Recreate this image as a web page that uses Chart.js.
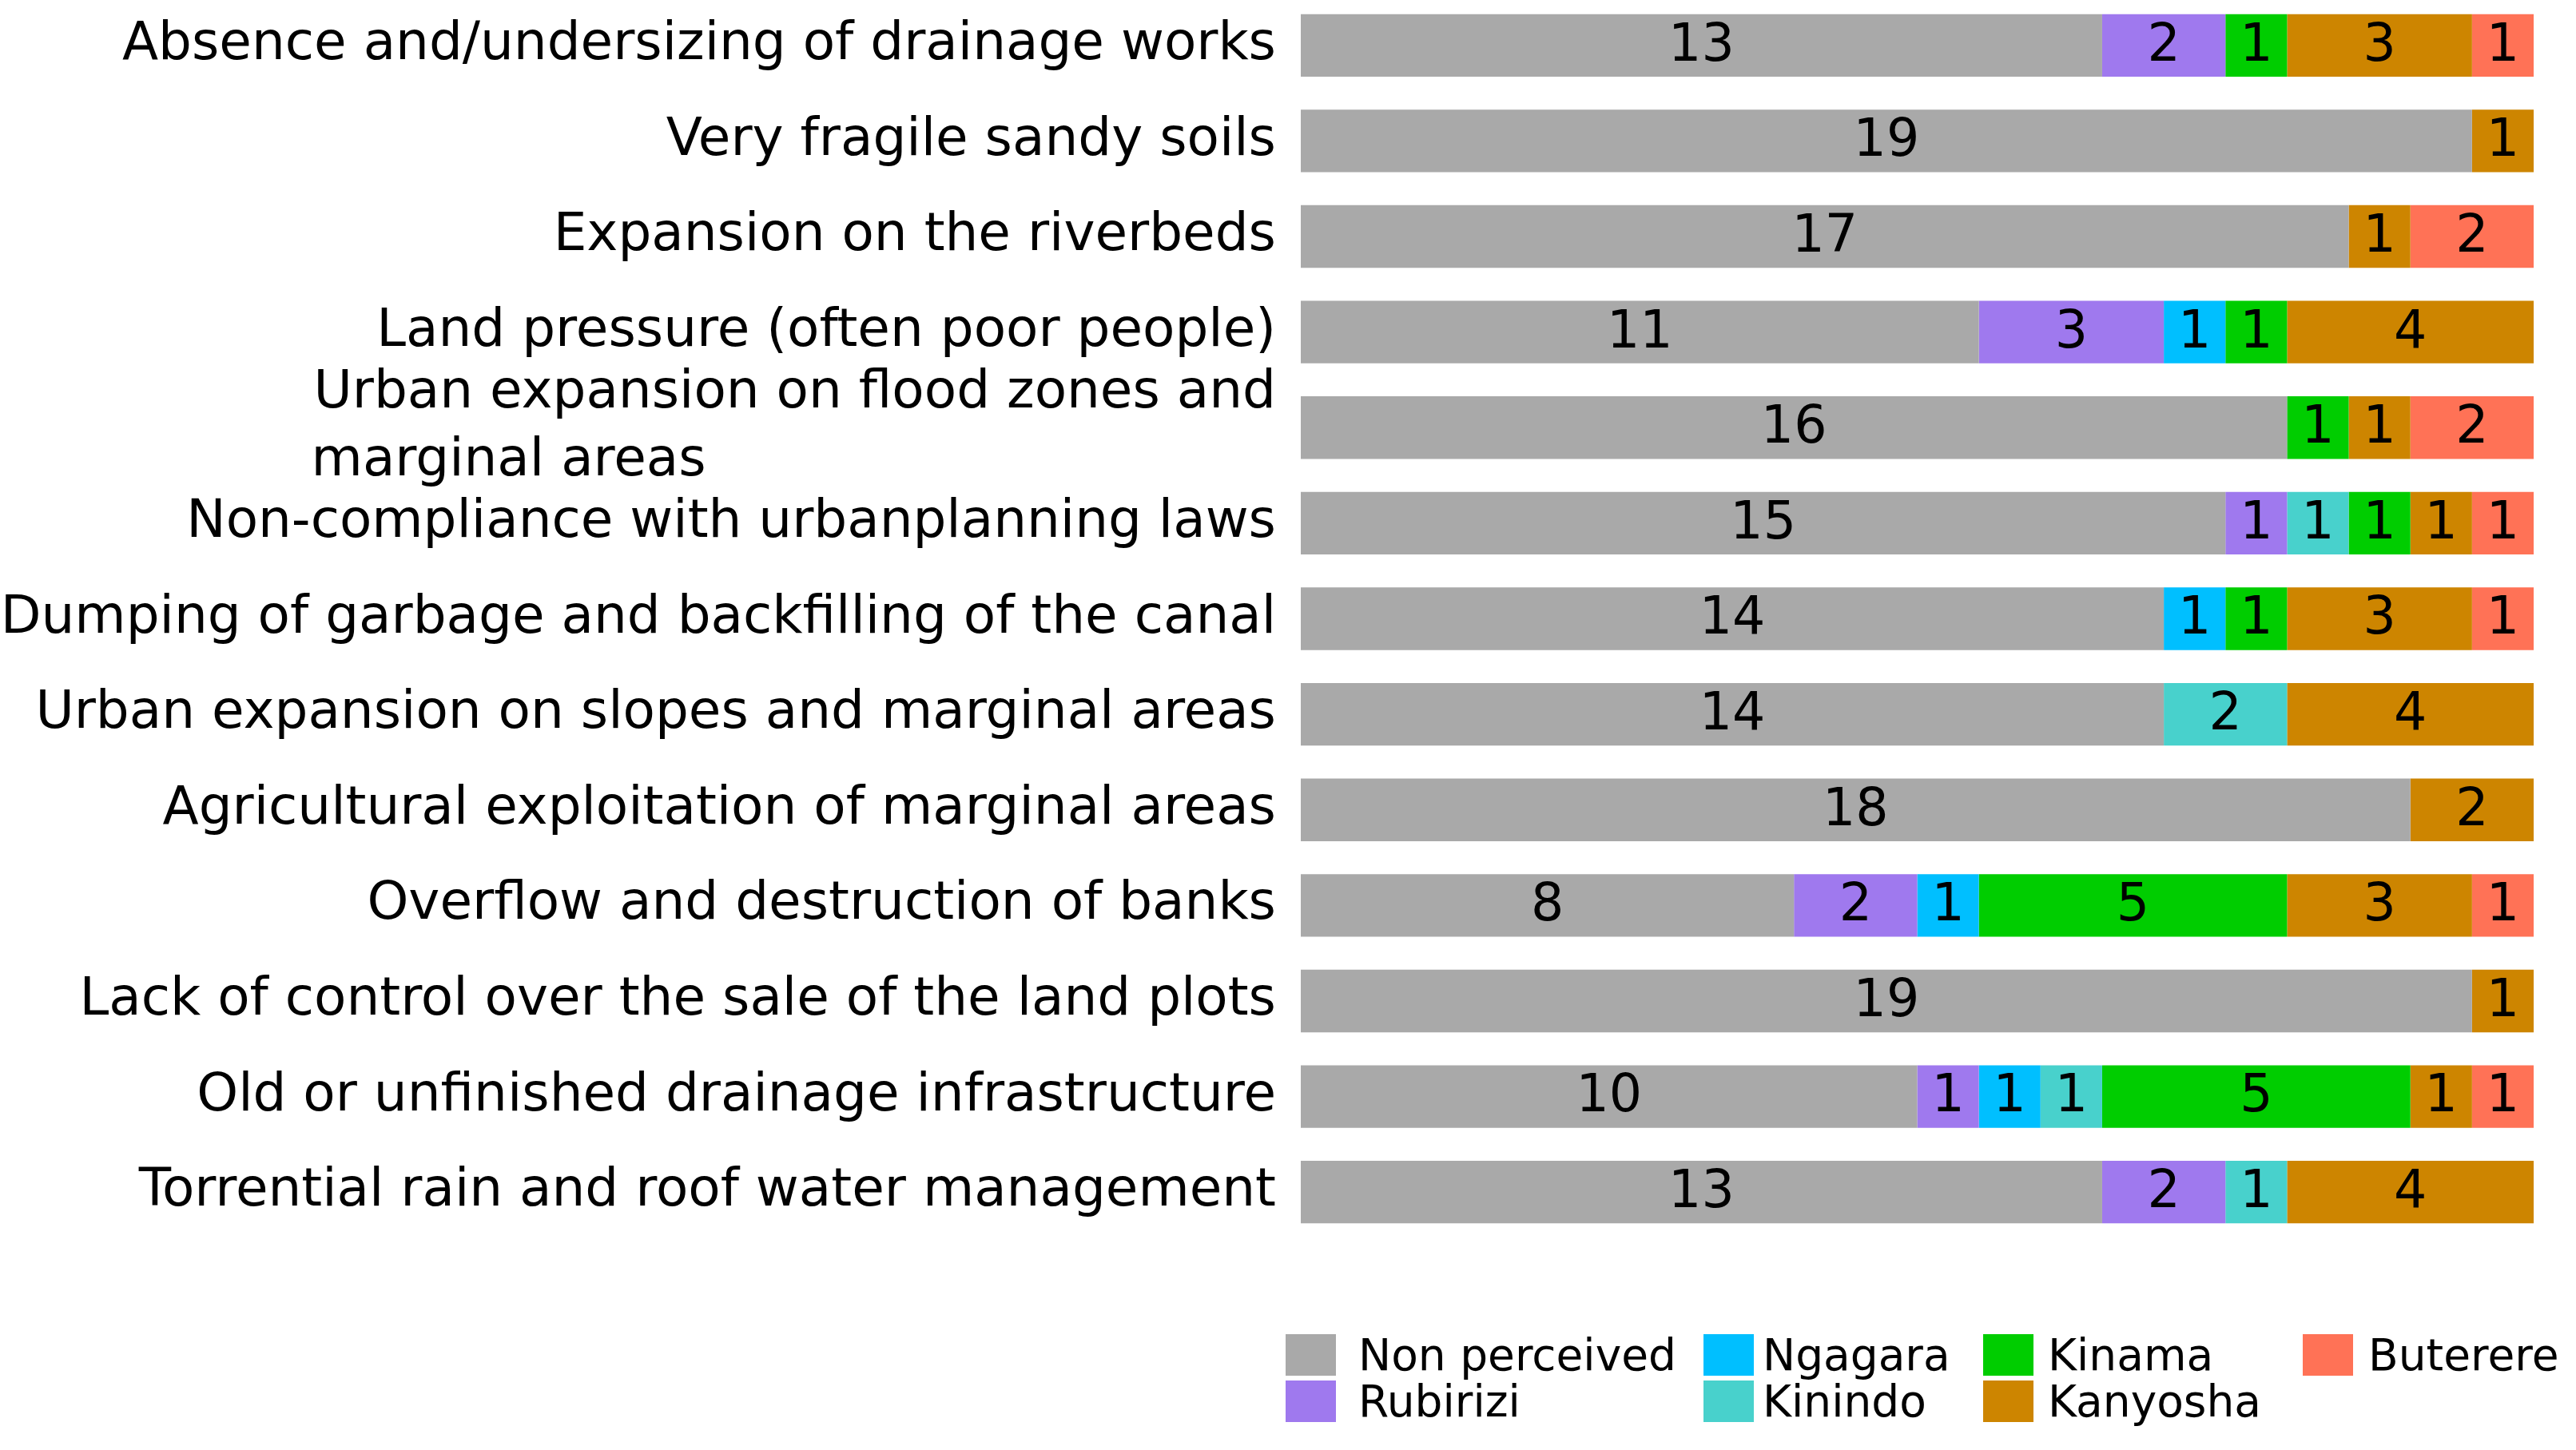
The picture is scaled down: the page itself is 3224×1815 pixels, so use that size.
<!DOCTYPE html>
<html>
<head>
<meta charset="utf-8">
<script src="https://cdn.jsdelivr.net/npm/chart.js@4.4.1/dist/chart.umd.min.js"></script>
<style>
  html, body { margin: 0; padding: 0; background: #fff; }
  body { width: 3224px; height: 1815px; position: relative; overflow: hidden; font-family: "DejaVu Sans", Verdana, sans-serif; }
  #wrap { position: absolute; left: 0; top: -3px; width: 3224px; height: 1555px; }
  #legend { position: absolute; left: 1609px; top: 1667px; display: grid; grid-template-rows: 58px 58px; grid-auto-flow: column; grid-template-columns: 523px 350px 400px auto; font-size: 55px; color: #000; }
  .item { display: flex; align-items: center; height: 58px; white-space: nowrap; }
  .sw { width: 63px; height: 52px; margin-right: 28px; flex: none; }
  .item:nth-child(3) .sw, .item:nth-child(4) .sw { margin-right: 11px; }
  .item:nth-child(5) .sw, .item:nth-child(6) .sw { margin-right: 18px; }
  .item:nth-child(7) .sw { margin-right: 19px; }
</style>
</head>
<body>
<div id="wrap"><canvas id="chart"></canvas></div>
<div id="legend"></div>
<script>
const categories = [
  'Absence and/undersizing of drainage works',
  'Very fragile sandy soils',
  'Expansion on the riverbeds',
  'Land pressure (often poor people)',
  ['Urban expansion on flood zones and', 'marginal areas' + ' '.repeat(34)],
  'Non-compliance with urbanplanning laws',
  'Dumping of garbage and backfilling of the canal',
  'Urban expansion on slopes and marginal areas',
  'Agricultural exploitation of marginal areas',
  'Overflow and destruction of banks',
  'Lack of control over the sale of the land plots',
  'Old or unfinished drainage infrastructure',
  'Torrential rain and roof water management'
]

const seriesNames = ['Non perceived', 'Rubirizi', 'Ngagara', 'Kinindo', 'Kinama', 'Kanyosha', 'Buterere']
const seriesColors = ['#A9A9A9', '#9F79EE', '#00BFFF', '#48D1CC', '#00CD00', '#CD8500', '#FF7256']

const nonPerceived = [13, 19, 17, 11, 16, 15, 14, 14, 18, 8, 19, 10, 13]
const rubirizi     = [2, 0, 0, 3, 0, 1, 0, 0, 0, 2, 0, 1, 2]
const ngagara      = [0, 0, 0, 1, 0, 0, 1, 0, 0, 1, 0, 1, 0]
const kinindo      = [0, 0, 0, 0, 0, 1, 0, 2, 0, 0, 0, 1, 1]
const kinama       = [1, 0, 0, 1, 1, 1, 1, 0, 0, 5, 0, 5, 0]
const kanyosha     = [3, 1, 1, 4, 1, 1, 3, 4, 2, 3, 1, 1, 4]
const buterere     = [1, 0, 2, 0, 2, 1, 1, 0, 0, 1, 0, 1, 0]

const seriesValues = [nonPerceived, rubirizi, ngagara, kinindo, kinama, kanyosha, buterere]

const FONT = '"DejaVu Sans", Verdana, sans-serif'

// numbers written in the middle of every segment
const valueLabels = {
  id: 'valueLabels',
  afterDatasetsDraw (chart) {
    const ctx = chart.ctx
    ctx.save()
    ctx.font = '65px ' + FONT
    ctx.fillStyle = '#000'
    ctx.textAlign = 'center'
    ctx.textBaseline = 'middle'
    chart.data.datasets.forEach((ds, i) => {
      chart.getDatasetMeta(i).data.forEach((bar, j) => {
        const v = ds.data[j]
        if (!v) return
        const p = bar.getCenterPoint()
        ctx.fillText(String(v), p.x, p.y + 2)
      })
    })
    ctx.restore()
  }
}

const data = {
  labels: categories,
  datasets: seriesValues.map((values, i) => {
    return {
      label: seriesNames[i],
      data: values,
      backgroundColor: seriesColors[i],
      borderWidth: 0,
      barPercentage: 0.655,
      categoryPercentage: 1
    }
  })
}

const options = {
  indexAxis: 'y',
  responsive: true,
  maintainAspectRatio: false,
  animation: false,
  layout: { padding: { left: 0, right: 53, top: 0, bottom: 0 } },
  plugins: {
    legend: { display: false },
    tooltip: { enabled: false }
  },
  scales: {
    x: {
      stacked: true,
      min: 0,
      max: 20,
      display: false
    },
    y: {
      stacked: true,
      grid: { display: false, drawTicks: false },
      border: { display: false },
      ticks: {
        autoSkip: false,
        color: '#000',
        padding: 31,
        font: { family: FONT, size: 66, lineHeight: 1.29 }
      },
      afterFit (scale) {
        scale.width = 1628
        scale.paddingTop = 0
        scale.paddingBottom = 0
      }
    }
  }
}

const chart = new Chart(document.getElementById('chart').getContext('2d'), {
  type: 'bar',
  data,
  options,
  plugins: [valueLabels]
})

const legend = document.getElementById('legend')
chart.data.datasets.forEach((ds) => {
  const item = document.createElement('div')
  item.className = 'item'
  const sw = document.createElement('span')
  sw.className = 'sw'
  sw.style.background = ds.backgroundColor
  const txt = document.createElement('span')
  txt.textContent = ds.label
  item.appendChild(sw)
  item.appendChild(txt)
  legend.appendChild(item)
})
</script>
</body>
</html>
